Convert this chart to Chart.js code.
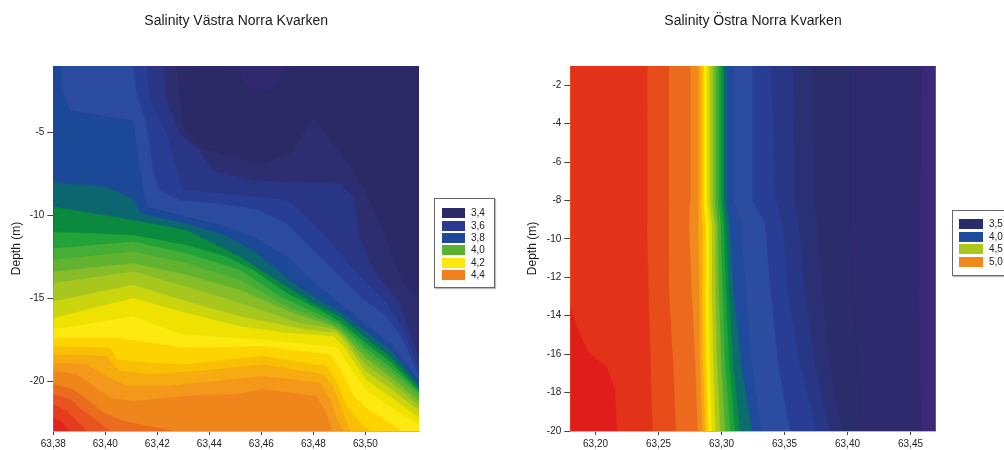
<!DOCTYPE html>
<html lang="sv">
<head>
<meta charset="UTF-8" />
<title>Salinity Norra Kvarken</title>
<script src="https://cdn.jsdelivr.net/npm/chart.js@4.4.0/dist/chart.umd.min.js"></script>
<style>
  html, body { margin: 0; padding: 0; background: #fff; }
  body { width: 1004px; height: 450px; position: relative; overflow: hidden; font-family: 'Liberation Sans', Arial, sans-serif; }
  canvas { position: absolute; top: 0; }
  #west { left: 0; }
  #east { left: 502px; }
  .legend { position: absolute; border: 1px solid #666; box-shadow: 1px 1px 1px #bbb; background: #fff; box-sizing: border-box; }
  .legend .row { position: relative; font-size: 10px; color: #222; }
  .legend .sw { position: absolute; top: 0; height: 10px; }
  .legend .lb { position: absolute; top: 0; line-height: 10px; }
</style>
</head>
<body>
<canvas id="west" width="502" height="450"></canvas>
<canvas id="east" width="502" height="450"></canvas>
<div class="legend" id="westLegend" style="left:434px; top:198px; width:61px; height:90px;"></div>
<div class="legend" id="eastLegend" style="left:952px; top:210px; width:80px; height:66px;"></div>

<script>
  // ---- Västra Norra Kvarken (lon x, depth y) ----
  const westLon = [63.38, 63.5206];
  const westDepth = [-23, -1];
  const westLonTicks = [63.38, 63.40, 63.42, 63.44, 63.46, 63.48, 63.50];
  const westDepthTicks = [-20, -15, -10, -5];
  const westBase = '#2b2a66';

  // fill colour on the salty side of each contour, low -> high
  const westColors = [
    '#2c2e6f', '#293585', '#283e95', '#2b4b9f', '#1b4897', '#0c6670', '#0a8a3f', '#23a23a',
    '#46ad36', '#62b430', '#86bd28', '#a8c71e', '#cad50d', '#efe200', '#fde910', '#fdd400',
    '#f9bf04', '#f6ab10', '#f3981a', '#ef861c', '#eb6b1f', '#e8531f', '#e53b1e', '#e2241d'
  ];

  const westContours = [
    [[63.4274,-1],[63.43,-4.7],[63.4364,-5.9],[63.4492,-6.5],[63.4603,-6.9],[63.471,-6.3],[63.4799,-4.1],[63.4864,-5.5],[63.4928,-6.7],[63.4992,-8.3],[63.5044,-10.0],[63.5095,-12.1],[63.5146,-14.1],[63.5206,-15.1]],
    [[63.4223,-1],[63.4236,-3.1],[63.4287,-5.1],[63.4364,-6.1],[63.4414,-7.3],[63.4568,-7.9],[63.4903,-8.1],[63.4954,-8.9],[63.4979,-11.3],[63.5031,-13.3],[63.5133,-15.3],[63.5206,-18.7]],
    [[63.4158,-1],[63.4172,-3.1],[63.4236,-5.1],[63.4273,-7.3],[63.4299,-8.5],[63.4465,-8.7],[63.4697,-9.1],[63.4747,-9.7],[63.485,-11.3],[63.4954,-13.3],[63.5082,-15.3],[63.5146,-16.9],[63.5206,-19.3]],
    [[63.4107,-1],[63.4121,-2.7],[63.4158,-4.5],[63.4183,-7.3],[63.4209,-8.5],[63.4286,-9.1],[63.444,-9.3],[63.4594,-9.7],[63.4697,-10.5],[63.4773,-11.7],[63.4877,-13.3],[63.4979,-14.9],[63.5082,-16.1],[63.5146,-17.6],[63.5206,-19.7]],
    [[63.3826,-1],[63.3838,-2.7],[63.3864,-3.7],[63.3979,-4.0],[63.4107,-4.3],[63.4132,-7.3],[63.4158,-9.5],[63.4312,-10.1],[63.444,-10.6],[63.4568,-11.3],[63.4697,-12.5],[63.4773,-13.7],[63.49,-15.3],[63.50,-16.6],[63.51,-17.8],[63.5206,-20.0]],
    [[63.38,-8.0],[63.4004,-8.3],[63.4107,-9.0],[63.4132,-9.8],[63.4183,-10.1],[63.4312,-10.5],[63.444,-11.1],[63.4568,-12.1],[63.4645,-13.1],[63.4722,-14.1],[63.4823,-15.1],[63.49,-15.8],[63.50,-17.0],[63.51,-18.2],[63.5206,-20.2]],
    [[63.38,-9.5],[63.4107,-10.3],[63.4312,-10.9],[63.444,-11.9],[63.4517,-12.5],[63.4594,-13.3],[63.4697,-14.3],[63.4799,-15.3],[63.49,-16.1],[63.50,-17.4],[63.51,-18.6],[63.5206,-20.4]],
    [[63.38,-11.0],[63.4107,-11.2],[63.4312,-11.8],[63.4465,-12.5],[63.4568,-13.3],[63.4697,-14.7],[63.4823,-15.7],[63.49,-16.4],[63.50,-17.7],[63.51,-18.9],[63.5206,-20.6]],
    [[63.38,-12.0],[63.4107,-11.6],[63.4312,-12.3],[63.4517,-13.3],[63.4671,-14.9],[63.4823,-16.0],[63.49,-16.6],[63.50,-18.0],[63.51,-19.2],[63.5206,-20.7]],
    [[63.38,-12.7],[63.4107,-12.2],[63.4312,-12.9],[63.4517,-13.9],[63.4697,-15.5],[63.485,-16.4],[63.49,-16.8],[63.50,-18.3],[63.51,-19.5],[63.5206,-20.9]],
    [[63.38,-13.4],[63.4107,-12.9],[63.4312,-13.6],[63.4517,-14.5],[63.4722,-15.9],[63.4877,-16.7],[63.4905,-17.0],[63.50,-18.6],[63.51,-19.8],[63.5206,-21.2]],
    [[63.38,-14.1],[63.4107,-13.4],[63.4312,-14.3],[63.4517,-15.3],[63.4747,-16.5],[63.4877,-16.85],[63.491,-17.2],[63.50,-19.0],[63.51,-20.1],[63.5206,-21.5]],
    [[63.38,-15.2],[63.4107,-14.2],[63.4312,-15.2],[63.4517,-16.1],[63.4773,-16.9],[63.489,-17.1],[63.4915,-17.5],[63.50,-19.4],[63.51,-20.5],[63.5206,-21.8]],
    [[63.38,-16.2],[63.4107,-15.0],[63.4312,-15.9],[63.4517,-16.7],[63.4697,-17.1],[63.4877,-17.3],[63.4915,-17.9],[63.50,-19.9],[63.51,-21.0],[63.5206,-22.2]],
    [[63.38,-16.9],[63.4107,-16.1],[63.43,-17.2],[63.4605,-17.5],[63.489,-17.95],[63.4928,-18.9],[63.50,-20.5],[63.51,-21.6],[63.5206,-22.6]],
    [[63.38,-17.4],[63.4044,-17.4],[63.43,-18.0],[63.4605,-17.9],[63.4864,-18.4],[63.4903,-19.3],[63.4954,-20.9],[63.50,-21.6],[63.51,-22.6],[63.5133,-23]],
    [[63.38,-17.9],[63.4018,-18.0],[63.4044,-18.7],[63.4172,-18.9],[63.43,-19.0],[63.4605,-18.5],[63.485,-19.1],[63.489,-20.1],[63.4928,-21.5],[63.4979,-22.5],[63.5018,-23]],
    [[63.38,-18.4],[63.4004,-18.5],[63.4056,-19.4],[63.4172,-19.6],[63.4364,-19.4],[63.4605,-19.0],[63.4836,-19.6],[63.4874,-20.3],[63.4903,-21.5],[63.4941,-23]],
    [[63.38,-18.9],[63.3928,-19.0],[63.4004,-19.7],[63.4082,-20.3],[63.4236,-20.3],[63.4492,-19.9],[63.4605,-19.7],[63.4823,-20.1],[63.4864,-21.1],[63.489,-22.3],[63.4915,-23]],
    [[63.38,-19.4],[63.389,-19.6],[63.3954,-20.3],[63.4018,-21.0],[63.4107,-21.2],[63.4312,-20.9],[63.4503,-20.8],[63.4605,-20.5],[63.481,-20.9],[63.4849,-21.9],[63.4874,-23]],
    [[63.38,-20.2],[63.3877,-20.5],[63.3928,-21.1],[63.3992,-21.9],[63.4069,-22.4],[63.4159,-22.7],[63.4262,-23]],
    [[63.38,-20.8],[63.3864,-21.1],[63.3915,-21.8],[63.3967,-22.4],[63.4018,-23]],
    [[63.38,-21.4],[63.385,-21.8],[63.3896,-22.5],[63.3928,-23]],
    [[63.38,-22.2],[63.383,-22.45],[63.3864,-23]]
  ];

  // fresher patch at the surface near 63.46
  const westSpot = [[63.451,-1],[63.4525,-1.8],[63.456,-2.4],[63.46,-2.6],[63.464,-2.4],[63.4675,-1.8],[63.469,-1]];
  const westSpotColor = '#31296f';

  const westLegendLabels = ['3,4', '3,6', '3,8', '4,0', '4,2', '4,4'];
  const westLegendColors = ['#2d2a69', '#2a3a91', '#1c4a98', '#5bb232', '#fde810', '#ef7f1f'];

  // ---- Östra Norra Kvarken ----
  const eastLon = [63.18, 63.47];
  const eastDepth = [-20, -1];
  const eastLonTicks = [63.20, 63.25, 63.30, 63.35, 63.40, 63.45];
  const eastDepthTicks = [-20, -18, -16, -14, -12, -10, -8, -6, -4, -2];
  const eastBase = '#3b2977';

  // contour longitude at these depths
  const eastAnchorDepths = [-1, -8, -9.2, -12.5, -16.5, -20];
  const eastColors = [
    '#2e2a6d', '#2b2c6a', '#2a3074', '#283686', '#273e94', '#2c4ca0', '#1f4a9e', '#0c6d6e',
    '#0a8a43', '#1ca23a', '#48ae34', '#7abb2b', '#acc91c', '#dcdc00', '#fde800', '#fcc700',
    '#f6a711', '#f08a1c', '#eb6a1e', '#e64d1b', '#e3321a'
  ];
  const eastContours = [
    [63.4587, 63.4573, 63.4565, 63.4565, 63.4573, 63.4581],
    [63.4018, 63.4018, 63.4018, 63.4042, 63.4082, 63.4113],
    [63.3717, 63.3732, 63.3764, 63.3796, 63.3860, 63.3955],
    [63.3566, 63.3582, 63.3614, 63.3661, 63.3740, 63.3860],
    [63.3393, 63.3425, 63.3488, 63.3519, 63.3621, 63.3756],
    [63.3242, 63.3242, 63.3345, 63.3385, 63.3449, 63.3542],
    [63.3091, 63.3091, 63.3155, 63.3186, 63.3234, 63.3313],
    [63.3036, 63.3036, 63.3060, 63.3091, 63.3155, 63.3242],
    [63.3016, 63.3016, 63.3036, 63.3056, 63.3091, 63.3147],
    [63.2996, 63.2996, 63.3016, 63.3032, 63.3060, 63.3107],
    [63.2972, 63.2972, 63.2992, 63.3004, 63.3028, 63.3067],
    [63.2948, 63.2948, 63.2968, 63.2976, 63.2996, 63.3028],
    [63.2925, 63.2925, 63.2944, 63.2948, 63.2964, 63.2988],
    [63.2901, 63.2901, 63.2921, 63.2921, 63.2933, 63.2952],
    [63.2881, 63.2881, 63.2897, 63.2897, 63.2905, 63.2921],
    [63.2857, 63.2857, 63.2869, 63.2869, 63.2877, 63.2893],
    [63.2837, 63.2837, 63.2845, 63.2845, 63.2853, 63.2869],
    [63.2813, 63.2813, 63.2813, 63.2821, 63.2829, 63.2845],
    [63.2750, 63.2750, 63.2740, 63.2760, 63.2790, 63.2810],
    [63.2578, 63.2578, 63.2578, 63.2580, 63.2615, 63.2637],
    [63.2406, 63.2407, 63.2408, 63.2418, 63.2435, 63.2451]
  ];
  // saltiest water, bottom left
  const eastSpot = [[63.18,-13.6],[63.1877,-15.0],[63.1943,-15.9],[63.2089,-16.7],[63.2155,-17.9],[63.2168,-20.0]];
  const eastSpotColor = '#e11d1c';

  const eastLegendLabels = ['3,5', '4,0', '4,5', '5,0'];
  const eastLegendColors = ['#2a2d6b', '#1f4c9d', '#a9c81a', '#f08a1d'];

  const FONT = "'Liberation Sans', Arial, sans-serif";
  const near = (a, b) => Math.abs(a - b) < 1e-6;

  // close a contour against the plot edges so it covers the salty side
  function closeShape(line, xr, yr) {
    const pts = line.map(p => ({ x: p[0], y: p[1] }));
    const first = line[0], last = line[line.length - 1];
    if (near(first[1], yr[1]) && !near(first[0], xr[0])) pts.unshift({ x: xr[0], y: yr[1] });
    if (near(last[0], xr[1])) pts.push({ x: xr[1], y: yr[0] });
    pts.push({ x: xr[0], y: yr[0] });
    return pts;
  }

  function makeDatasets(base, colors, shapes, spots) {
    const list = [{ data: base, color: null }];
    shapes.forEach((s, i) => list.push({ data: s, color: colors[i] }));
    spots.forEach(s => list.push(s));
    const n = list.length;
    return list.map((s, i) => ({
      data: s.data,
      showLine: true,
      fill: 'shape',
      backgroundColor: s.color,
      borderColor: s.color,
      borderWidth: 0.5,
      pointRadius: 0,
      tension: 0,
      order: n - i
    }));
  }

  function rect(xr, yr) {
    return [{ x: xr[0], y: yr[1] }, { x: xr[1], y: yr[1] }, { x: xr[1], y: yr[0] }, { x: xr[0], y: yr[0] }];
  }

  function makeChart(id, o) {
    return new Chart(document.getElementById(id), {
      type: 'scatter',
      data: { datasets: o.datasets },
      options: {
        responsive: false,
        animation: false,
        events: [],
        layout: { padding: { left: 0, right: o.padRight, top: 0, bottom: 0 } },
        plugins: {
          legend: { display: false },
          tooltip: { enabled: false },
          title: {
            display: true, text: o.title, fullSize: false, color: '#1a1a1a',
            font: { family: FONT, size: 14, weight: 'normal' },
            padding: { top: 12.6, bottom: 36.6 }
          }
        },
        scales: {
          x: {
            type: 'linear', min: o.xr[0], max: o.xr[1],
            afterBuildTicks: s => { s.ticks = o.xTicks.map(v => ({ value: v })); },
            afterFit: s => { s.height = 19; },
            ticks: {
              color: '#222', padding: 3, maxRotation: 0,
              font: { family: FONT, size: 10 },
              callback: v => v.toFixed(2).replace('.', ',')
            },
            grid: { drawOnChartArea: false, tickLength: 4, color: '#444' },
            border: { color: 'rgba(150,150,200,0.7)' }
          },
          y: {
            type: 'linear', min: o.yr[0], max: o.yr[1],
            afterBuildTicks: s => { s.ticks = o.yTicks.map(v => ({ value: v })); },
            afterFit: s => { s.width = o.axisWidth; },
            ticks: {
              color: '#222', padding: 3,
              font: { family: FONT, size: 10 },
              callback: v => String(v)
            },
            grid: { drawOnChartArea: false, tickLength: 6, color: '#444' },
            border: { color: 'rgba(150,150,200,0.7)' },
            title: {
              display: true, text: 'Depth (m)', color: '#1a1a1a',
              font: { family: FONT, size: 12 },
              padding: { top: o.titlePad, bottom: 0 }
            }
          }
        }
      }
    });
  }

  function makeLegend(id, labels, colors, o) {
    const box = document.getElementById(id);
    labels.forEach((t, i) => {
      const row = document.createElement('div');
      row.className = 'row';
      row.style.position = 'absolute';
      row.style.left = '0';
      row.style.top = (o.top + i * o.step) + 'px';
      row.innerHTML =
        `<span class="sw" style="left:${o.swLeft}px;width:${o.swWidth}px;background:${colors[i]}"></span>` +
        `<span class="lb" style="left:${o.textLeft}px">${t}</span>`;
      box.appendChild(row);
    });
  }

  // west chart
  const westShapes = westContours.map(c => closeShape(c, westLon, westDepth));
  makeChart('west', {
    title: 'Salinity Västra Norra Kvarken',
    xr: westLon, yr: westDepth, xTicks: westLonTicks, yTicks: westDepthTicks,
    padRight: 83, axisWidth: 53.3, titlePad: 9,
    datasets: makeDatasets(rect(westLon, westDepth), westColors, westShapes,
      [{ data: westSpot.map(p => ({ x: p[0], y: p[1] })), color: westSpotColor }])
      .map((d, i) => (i === 0 ? Object.assign(d, { backgroundColor: westBase, borderColor: westBase }) : d))
  });

  // east chart
  const eastShapes = eastContours.map(c => closeShape(c.map((lon, k) => [lon, eastAnchorDepths[k]]), eastLon, eastDepth));
  makeChart('east', {
    title: 'Salinity Östra Norra Kvarken',
    xr: eastLon, yr: eastDepth, xTicks: eastLonTicks, yTicks: eastDepthTicks,
    padRight: 68.3, axisWidth: 68.3, titlePad: 23.9,
    datasets: makeDatasets(rect(eastLon, eastDepth), eastColors, eastShapes,
      [{ data: closeShape(eastSpot, eastLon, eastDepth), color: eastSpotColor }])
      .map((d, i) => (i === 0 ? Object.assign(d, { backgroundColor: eastBase, borderColor: eastBase }) : d))
  });

  makeLegend('westLegend', westLegendLabels, westLegendColors, { top: 9.3, step: 12.35, swLeft: 7, swWidth: 23, textLeft: 36 });
  makeLegend('eastLegend', eastLegendLabels, eastLegendColors, { top: 8.3, step: 12.45, swLeft: 6, swWidth: 24, textLeft: 36 });
</script>
</body>
</html>
